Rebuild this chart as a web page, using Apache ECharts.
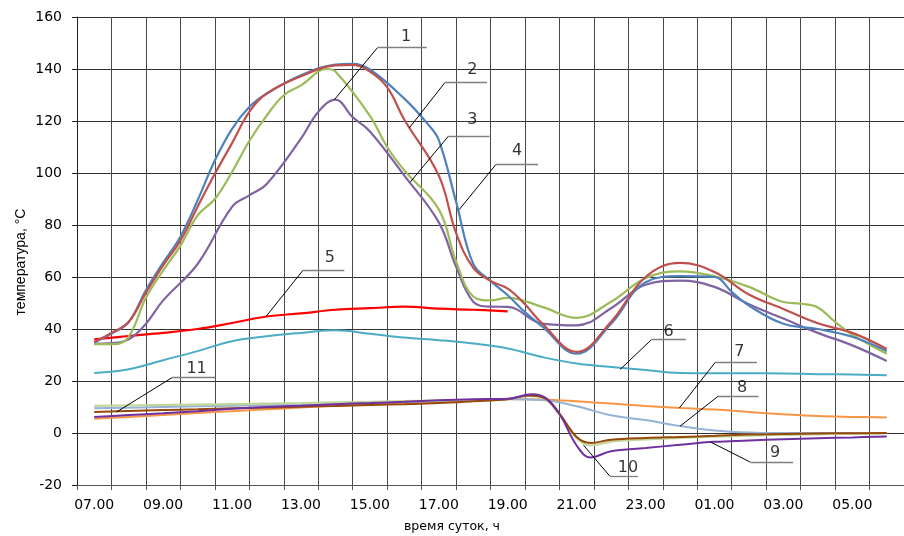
<!DOCTYPE html>
<html>
<head>
<meta charset="utf-8">
<script src="https://cdn.jsdelivr.net/npm/echarts@6/dist/echarts.min.js"></script>
<style>
  html, body { margin: 0; padding: 0; background: #fff; }
  #chart { width: 904px; height: 536px; }
</style>
</head>
<body>
<div id="chart"></div>
<script>
// hour labels, 07.00 ... 06.00 (one category per hour)
const hourLabels = ['07.00', '08.00', '09.00', '10.00', '11.00', '12.00', '13.00', '14.00',
  '15.00', '16.00', '17.00', '18.00', '19.00', '20.00', '21.00', '22.00', '23.00', '00.00',
  '01.00', '02.00', '03.00', '04.00', '05.00', '06.00']

// series values as [hours since 07.00, temperature]
const s1 = [[0, 34.4], [0.5, 34.6], [1, 36], [1.5, 42], [2, 51], [3, 65], [4, 87], [4.5, 91.4], [5, 95.7],
  [6, 113.2], [6.5, 123.5], [7, 128.2], [7.5, 121.5], [8, 116], [9, 99], [10, 81], [10.5, 64], [11, 50.5],
  [11.5, 48.6], [12, 48.5], [13, 42.1], [14, 41.4], [15, 48], [16, 57], [17, 58.6], [18, 56.2], [19, 49.5],
  [20, 44], [21, 38.5], [22, 33.7], [23, 27.7]]
const s2 = [[0, 35], [0.5, 38.5], [1, 42.7], [1.5, 54], [2, 64.5], [2.5, 74], [3, 87], [3.5, 99.7], [4, 111.5],
  [4.5, 123.5], [5, 130.5], [6, 137.2], [7, 141.4], [7.5, 141.6], [8, 139], [8.5, 133], [9, 120.5], [10, 99],
  [10.5, 77], [11, 63.5], [11.5, 58.5], [12, 55.5], [12.5, 49.5], [13, 42.1], [14, 31.2], [15, 42.8], [16, 60],
  [17, 65.4], [18, 61.9], [19, 53.3], [20, 47.7], [21, 42.2], [22, 38.5], [23, 32.3]]
const s3 = [[0, 34.2], [0.6, 34.2], [1, 37], [1.5, 52], [2, 62.5], [2.5, 72], [3, 83.7], [3.5, 90], [4, 100.4],
  [4.5, 112.3], [5, 122], [5.5, 129.9], [6, 133.7], [6.75, 140], [7, 139], [8, 122], [8.5, 110], [9, 101],
  [10, 86], [10.5, 66], [11, 52.5], [11.5, 51], [12, 52], [13, 48.5], [14, 44.3], [15, 50.5], [16, 59.5],
  [17, 62.2], [18, 60.3], [19, 56.2], [20, 50.4], [20.5, 49.7], [21, 48.3], [21.5, 42.7], [22, 37.8], [23, 30.5]]
const s4 = [[0, 34.8], [0.5, 38.2], [1, 42.7], [1.5, 54.9], [2, 65.5], [2.5, 75.5], [3, 89.5], [3.5, 104.8],
  [4, 117], [4.5, 125.4], [5, 130.5], [6, 137.6], [7, 141.7], [7.5, 142], [8, 139.8], [9, 128.6], [9.7, 118.5],
  [10, 112.6], [10.5, 89], [11, 65], [11.5, 58.5], [12, 53], [12.5, 46.5], [13, 41], [14, 30.5], [15, 42],
  [16, 58], [17, 60.3], [18, 60], [18.5, 54.3], [19, 49], [20, 42], [21, 40], [22, 37], [23, 31.5]]
const s5 = [[0, 36], [1, 37.3], [2, 38.5], [3, 40], [4, 42.3], [5, 44.8], [6, 46], [7, 47.4], [8, 48],
  [9, 48.6], [10, 47.8], [11, 47.4], [12, 46.8]]
const s6 = [[0, 23.1], [1, 24.5], [2, 28], [3, 31.5], [4, 35.3], [5, 37.2], [6, 38.5], [7, 39.5], [8, 38.2],
  [9, 36.7], [10, 35.7], [11, 34.4], [12, 32.5], [13, 29.2], [14, 26.7], [15, 25.4], [16, 24.2], [17, 23.1],
  [18, 23], [19, 23], [20, 22.9], [21, 22.6], [22, 22.5], [23, 22.2]]
const s7 = [[0, 5.5], [1, 6.2], [2, 6.9], [3, 7.7], [4, 8.4], [5, 9.1], [6, 9.8], [7, 10.5], [8, 11], [9, 11.5],
  [10, 12], [11, 12.6], [12, 13.1], [13, 12.9], [14, 12.2], [15, 11.3], [16, 10.4], [17, 9.6], [18, 9],
  [19, 8.1], [20, 7.2], [21, 6.5], [22, 6.2], [23, 6]]
const s8 = [[0, 9.5], [2, 10], [4, 10.5], [6, 11], [8, 11.6], [10, 12.3], [12, 13], [13, 12.7], [14, 10.3],
  [15, 6.8], [16, 5], [17, 2.7], [18, 1], [19, 0.2], [20, 0], [21, 0], [22, 0], [23, 0]]
const s9 = [[0, 6.2], [1, 6.9], [2, 7.6], [3, 8.4], [4, 9.3], [5, 10], [6, 10.5], [7, 11.1], [8, 11.5], [9, 12],
  [10, 12.6], [11, 13], [12, 13.2], [12.7, 14.9], [13.1, 13.5], [13.5, 7.4], [14, -4.8], [14.4, -9.4],
  [15, -7], [16, -5.8], [17, -4.5], [18, -3.4], [19, -2.9], [20, -2.4], [21, -2], [22, -1.7], [23, -1.3]]
const s10 = [[0, 10.4], [2, 10.8], [4, 11.1], [6, 11.5], [8, 12], [10, 12.5], [12, 13], [12.6, 14.3],
  [13.05, 13.4], [13.5, 7], [14, -2], [14.4, -4.8], [15, -3.3], [16, -2.5], [17, -1.9], [18, -1.4], [19, -1],
  [20, -0.7], [21, -0.5], [22, -0.3], [23, -0.2]]
const s11 = [[0, 8.1], [1, 8.5], [2, 8.8], [3, 9.1], [4, 9.5], [5, 9.8], [6, 10.1], [7, 10.4], [8, 10.8],
  [9, 11.1], [10, 11.5], [11, 12.2], [12, 13], [12.6, 14.4], [13.05, 13.5], [13.5, 7.4], [14, -1.5],
  [14.4, -3.8], [15, -2.6], [16, -1.9], [17, -1.5], [18, -1.1], [19, -0.6], [20, -0.4], [21, -0.2],
  [22, -0.1], [23, 0]]

// callout numbers and their leader lines (data coords)
const calloutNames = ['1', '2', '3', '4', '5', '6', '7', '8', '9', '10', '11']
const calloutTip = [[6.97, 128.2], [9.14, 117.3], [9.17, 96.5], [10.59, 85.9], [4.99, 44.9], [15.26, 24.4],
  [16.98, 9.6], [17.0, 2.6], [17.89, -3.5], [14.2, -4.7], [0.65, 8.1]]
const calloutElbow = [[8.22, 148.2], [10.18, 134.8], [10.28, 114.2], [11.66, 103.3], [6.06, 62.6], [16.17, 35.9],
  [18.03, 27.3], [18.1, 14.1], [19.04, -11.2], [14.97, -16.7], [2.26, 21.3]]
const calloutEnd = [[9.65, 148.2], [11.4, 134.8], [11.47, 114.2], [12.88, 103.3], [7.26, 62.6], [17.17, 35.9],
  [19.23, 27.3], [19.28, 14.1], [20.28, -11.2], [15.78, -16.7], [3.52, 21.3]]
const calloutText = [[9.05, 152.2], [10.97, 139.8], [10.97, 120.5], [12.27, 108.5], [6.84, 67.5], [16.67, 38.8],
  [18.72, 31.2], [18.8, 17.3], [19.76, -7.5], [15.49, -13.5], [2.97, 24.8]]

const chart = echarts.init(document.getElementById('chart'))

// the hour value axis runs over cell edges (0..24), so a reading at hour t sits at t + 0.5
const toAxis = p => [p[0] + 0.5, p[1]]

const curve = (name, data, color, width) => ({
  name,
  type: 'line',
  xAxisIndex: 1,
  data: data.map(toAxis),
  smooth: 0.4,
  symbol: 'none',
  lineStyle: { color, width },
  z: 3
})

const leaders = []
calloutNames.forEach((n, i) => {
  leaders.push({
    coords: [toAxis(calloutTip[i]), toAxis(calloutElbow[i])],
    lineStyle: { color: '#000', width: 1, opacity: 1 }
  })
  leaders.push({
    coords: [toAxis(calloutElbow[i]), toAxis(calloutEnd[i])],
    lineStyle: { color: '#808080', width: 1.3, opacity: 1 }
  })
})

const option = {
  animation: false,
  grid: { left: 77, top: 17, width: 835, height: 468 },
  xAxis: [
    {
      // labels only
      type: 'category',
      data: hourLabels,
      position: 'bottom',
      boundaryGap: true,
      axisLine: { onZero: false, lineStyle: { color: '#555', width: 1 } },
      axisTick: { show: false },
      axisLabel: { interval: 1, margin: 13, color: '#000', fontSize: 14, fontFamily: 'DejaVu Sans' },
      splitLine: { show: false }
    },
    {
      // grid lines and ticks at the hour cell edges
      type: 'value',
      position: 'bottom',
      min: 0,
      max: 24,
      interval: 1,
      axisLine: { show: false, onZero: false },
      axisTick: { show: true, length: 5, lineStyle: { color: '#555' } },
      axisLabel: { show: false },
      splitLine: { show: true, lineStyle: { color: '#4a4a4a', width: 1 } }
    }
  ],
  yAxis: {
    type: 'value',
    min: -20,
    max: 160,
    interval: 20,
    axisLine: { show: true, lineStyle: { color: '#222', width: 1 } },
    axisTick: { show: true, length: 5, lineStyle: { color: '#222' } },
    axisLabel: { margin: 15, color: '#000', fontSize: 14, fontFamily: 'DejaVu Sans' },
    splitLine: { lineStyle: { color: '#333', width: 1 } }
  },
  graphic: [
    {
      type: 'text',
      left: 404,
      top: 520,
      style: { text: 'время суток, ч', font: '12.5px "DejaVu Sans"', fill: '#000' }
    },
    {
      type: 'text',
      x: 21,
      y: 262,
      rotation: Math.PI / 2,
      style: {
        text: 'температура, °C', font: '14px "Liberation Sans"', fill: '#000',
        align: 'center', verticalAlign: 'middle'
      }
    }
  ],
  series: [
    curve('6', s6, '#4BACC6', 2),
    curve('7', s7, '#F79646', 2),
    curve('8', s8, '#95B3D7', 2),
    curve('10', s10, '#C3D69B', 2.2),
    curve('11', s11, '#984807', 2),
    curve('9', s9, '#7030A0', 2),
    curve('5', s5, '#FF0000', 2.2),
    curve('1', s1, '#8064A2', 2.2),
    curve('3', s3, '#9BBB59', 2.2),
    curve('4', s4, '#4F81BD', 2.2),
    curve('2', s2, '#C0504D', 2.2),
    {
      type: 'lines',
      coordinateSystem: 'cartesian2d',
      xAxisIndex: 1,
      data: leaders,
      z: 4
    },
    {
      type: 'scatter',
      xAxisIndex: 1,
      symbolSize: 1,
      itemStyle: { color: 'rgba(0,0,0,0)' },
      data: calloutText.map((p, i) => [p[0] + 0.5, p[1], calloutNames[i]]),
      label: {
        show: true,
        position: 'inside',
        formatter: p => p.value[2],
        color: '#000',
        fontSize: 16,
        fontFamily: 'DejaVu Sans'
      },
      z: 5
    }
  ]
}

chart.setOption(option)
</script>
</body>
</html>
